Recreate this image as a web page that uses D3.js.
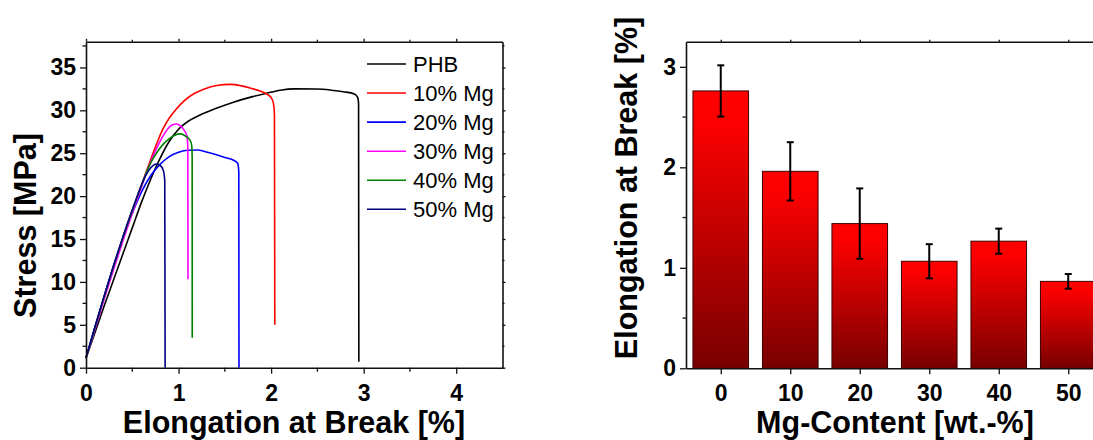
<!DOCTYPE html>
<html>
<head>
<meta charset="utf-8">
<script src="https://cdn.jsdelivr.net/npm/d3@7"></script>
<style>
  html, body { margin: 0; padding: 0; background: #fff; }
  svg { display: block; }
  text { font-family: "Liberation Sans", Arial, sans-serif; }
</style>
</head>
<body>
<svg id="chart" width="1093" height="440"></svg>
<script>
// ---------- Left panel: stress-strain curves ----------
const strainPHB  = [0, 0.1, 0.2, 0.3, 0.4, 0.5, 0.6, 0.7, 0.8, 0.9, 1.0, 1.1, 1.232, 1.4, 1.593, 1.8, 1.953, 2.1, 2.25, 2.494, 2.65, 2.78, 2.9, 2.935, 2.945, 2.948];
const stressPHB  = [1.1, 4.2, 7.3, 10.3, 13.3, 16.3, 19.3, 22.0, 24.4, 26.4, 27.8, 28.7, 29.45, 30.2, 30.95, 31.6, 32.0, 32.35, 32.5, 32.48, 32.35, 32.17, 31.9, 31.5, 30.8, 0.7];

const strain10 = [0, 0.1, 0.2, 0.3, 0.4, 0.5, 0.6, 0.65, 0.7, 0.76, 0.83, 0.9, 0.98, 1.06, 1.16, 1.28, 1.413, 1.557, 1.68, 1.773, 1.88, 1.953, 2.0, 2.025, 2.036, 2.04];
const stress10 = [1.1, 4.8, 8.4, 11.9, 15.2, 18.3, 21.3, 22.8, 24.3, 26.0, 27.8, 29.1, 30.2, 31.1, 31.9, 32.5, 32.9, 33.03, 32.85, 32.6, 32.25, 31.9, 31.5, 30.8, 29.5, 5.0];

const strain20 = [0, 0.1, 0.2, 0.3, 0.4, 0.5, 0.6, 0.7, 0.8, 0.9, 1.0, 1.1, 1.2, 1.3, 1.4, 1.5, 1.6, 1.64, 1.651, 1.653];
const stress20 = [1.1, 4.8, 8.4, 11.9, 15.1, 18.0, 20.5, 22.4, 23.7, 24.6, 25.1, 25.35, 25.37, 25.15, 24.85, 24.5, 24.15, 23.8, 22.8, 0];

const strain30 = [0, 0.1, 0.2, 0.3, 0.4, 0.5, 0.6, 0.65, 0.7, 0.76, 0.82, 0.88, 0.93, 0.98, 1.02, 1.06, 1.09, 1.1, 1.102];
const stress30 = [1.1, 4.6, 8.1, 11.5, 14.8, 18.0, 21.1, 22.6, 24.0, 25.5, 26.8, 27.8, 28.3, 28.4, 28.2, 27.7, 27.0, 25.8, 10.3];

const strain40 = [0, 0.1, 0.2, 0.3, 0.4, 0.5, 0.6, 0.65, 0.7, 0.76, 0.83, 0.9, 0.96, 1.016, 1.06, 1.1, 1.13, 1.143, 1.147, 1.148];
const stress40 = [1.1, 4.8, 8.4, 11.9, 15.2, 18.3, 21.3, 22.7, 23.9, 25.0, 26.0, 26.7, 27.1, 27.25, 27.1, 26.8, 26.4, 25.8, 24.5, 3.5];

const strain50 = [0, 0.1, 0.2, 0.3, 0.4, 0.5, 0.6, 0.65, 0.7, 0.76, 0.8, 0.835, 0.851, 0.855];
const stress50 = [1.2, 4.9, 8.5, 12.0, 15.3, 18.4, 21.3, 22.5, 23.3, 23.75, 23.6, 23.0, 21.8, 0];

const seriesNames  = ["PHB", "10% Mg", "20% Mg", "30% Mg", "40% Mg", "50% Mg"];
const seriesColors = ["#000000", "#ff0000", "#0000ff", "#ff00ff", "#008000", "#000080"];
const seriesStrain = [strainPHB, strain10, strain20, strain30, strain40, strain50];
const seriesStress = [stressPHB, stress10, stress20, stress30, stress40, stress50];

const leftXTicks = [0, 1, 2, 3, 4];
const leftYTicks = [0, 5, 10, 15, 20, 25, 30, 35];

// ---------- Right panel: bar chart ----------
const mgContent  = [0, 10, 20, 30, 40, 50];
const elongation = [2.76, 1.96, 1.44, 1.065, 1.265, 0.865];
const elongErr   = [0.255, 0.29, 0.35, 0.17, 0.125, 0.073];
const rightYTicks = [0, 1, 2, 3];

const svg = d3.select("#chart");
const FONT = "'Liberation Sans', Arial, sans-serif";

// ===== Left panel =====
const L = { left: 86, right: 502.5, top: 41.7, bottom: 367.7 };
const xL = d3.scaleLinear().domain([0, 4.5]).range([L.left, L.right]);
const yL = d3.scaleLinear().domain([0, 38]).range([L.bottom, L.top]);

const gL = svg.append("g");

function minorTicks(g, scale, values, orient, pos, len) {
  values.forEach(v => {
    const p = scale(v);
    if (orient === "bottom") g.append("line").attr("x1", p).attr("x2", p).attr("y1", pos).attr("y2", pos + len);
    if (orient === "top") g.append("line").attr("x1", p).attr("x2", p).attr("y1", pos).attr("y2", pos - len);
    if (orient === "left") g.append("line").attr("y1", p).attr("y2", p).attr("x1", pos).attr("x2", pos - len);
    if (orient === "right") g.append("line").attr("y1", p).attr("y2", p).attr("x1", pos).attr("x2", pos + len);
  });
  g.selectAll("line").attr("stroke", "#111").attr("stroke-width", 1.3);
}

// curves
const lineGen = d3.line().curve(d3.curveMonotoneX);
const curvesG = gL.append("g");
seriesNames.forEach((name, i) => {
  const pts = seriesStrain[i].map((e, j) => [xL(e), yL(seriesStress[i][j])]);
  curvesG.append("path")
    .attr("d", lineGen(pts))
    .attr("fill", "none")
    .attr("stroke", seriesColors[i])
    .attr("stroke-width", 1.6)
    .attr("stroke-linejoin", "round");
});

// axes
const axBL = gL.append("g").attr("transform", `translate(0,${L.bottom})`)
  .call(d3.axisBottom(xL).tickValues(leftXTicks).tickFormat(d3.format("d")).tickSizeInner(6).tickSizeOuter(0).tickPadding(5));
const axLL = gL.append("g").attr("transform", `translate(${L.left},0)`)
  .call(d3.axisLeft(yL).tickValues(leftYTicks).tickFormat(d3.format("d")).tickSizeInner(6).tickSizeOuter(0).tickPadding(4));
const axTL = gL.append("g").attr("transform", `translate(0,${L.top})`)
  .call(d3.axisTop(xL).tickValues(leftXTicks).tickFormat("").tickSizeInner(3).tickSizeOuter(0));
const axRL = gL.append("g").attr("transform", `translate(${L.right},0)`)
  .call(d3.axisRight(yL).tickValues(leftYTicks).tickFormat("").tickSizeInner(3).tickSizeOuter(0));
[axBL, axLL, axTL, axRL].forEach(a => {
  a.select(".domain").attr("stroke", "#111").attr("stroke-width", 1.6);
  a.selectAll(".tick line").attr("stroke", "#111").attr("stroke-width", 1.3);
  a.selectAll("text").attr("font-family", FONT).attr("font-weight", "bold").attr("font-size", 23).attr("fill", "#000");
});
axBL.selectAll("text").attr("dy", "0.95em");
minorTicks(gL.append("g"), xL, [0.5, 1.5, 2.5, 3.5], "bottom", L.bottom, 4);
minorTicks(gL.append("g"), xL, [0.5, 1.5, 2.5, 3.5], "top", L.top, 2);
minorTicks(gL.append("g"), yL, [2.5, 7.5, 12.5, 17.5, 22.5, 27.5, 32.5, 37.5], "left", L.left, 3.5);
minorTicks(gL.append("g"), yL, [2.5, 7.5, 12.5, 17.5, 22.5, 27.5, 32.5, 37.5], "right", L.right, 2);

// legend
const legY = d3.scaleLinear().domain([0, 5]).range([64, 209.3]);
const legG = gL.append("g");
seriesNames.forEach((name, i) => {
  legG.append("line").attr("x1", 367).attr("x2", 406)
    .attr("y1", legY(i)).attr("y2", legY(i))
    .attr("stroke", seriesColors[i]).attr("stroke-width", 1.6);
  legG.append("text").attr("x", 413).attr("y", legY(i)).attr("dy", "0.36em")
    .attr("font-family", FONT).attr("font-size", 22).text(name);
});

// titles
gL.append("text").attr("x", 294).attr("y", 433).attr("text-anchor", "middle")
  .attr("font-family", FONT).attr("font-weight", "bold").attr("font-size", 30.5)
  .text("Elongation at Break [%]");
gL.append("text").attr("transform", "translate(36,225.5) rotate(-90)").attr("text-anchor", "middle")
  .attr("font-family", FONT).attr("font-weight", "bold").attr("font-size", 30.5)
  .text("Stress [MPa]");

// ===== Right panel =====
const R = { left: 686, top: 41.7, bottom: 368.3 };
const xR = d3.scaleLinear().domain([-5, 55]).range([R.left, R.left + 60 * 6.95]);
const yR = d3.scaleLinear().domain([0, 3.25]).range([R.bottom, R.top]);
const gR = svg.append("g");

const defs = svg.append("defs");
const grad = defs.append("linearGradient").attr("id", "barGrad")
  .attr("x1", 0).attr("y1", 0).attr("x2", 0).attr("y2", 1);
grad.append("stop").attr("offset", "0%").attr("stop-color", "#ff0000");
grad.append("stop").attr("offset", "12%").attr("stop-color", "#fb0000");
grad.append("stop").attr("offset", "100%").attr("stop-color", "#780000");

const barW = xR(4) - xR(-4);
gR.selectAll("rect.bar").data(mgContent).join("rect")
  .attr("class", "bar")
  .attr("x", d => xR(d) - barW / 2)
  .attr("width", barW)
  .attr("y", (d, i) => yR(elongation[i]))
  .attr("height", (d, i) => yR(0) - yR(elongation[i]))
  .attr("fill", "url(#barGrad)")
  .attr("stroke", "#3a0000").attr("stroke-width", 1);

const errG = gR.append("g").attr("stroke", "#000").attr("stroke-width", 2);
mgContent.forEach((c, i) => {
  const cx = xR(c);
  const yt = yR(elongation[i] + elongErr[i]);
  const yb = yR(elongation[i] - elongErr[i]);
  errG.append("line").attr("x1", cx).attr("x2", cx).attr("y1", yt).attr("y2", yb);
  errG.append("line").attr("x1", cx - 3.5).attr("x2", cx + 3.5).attr("y1", yt).attr("y2", yt);
  errG.append("line").attr("x1", cx - 3.5).attr("x2", cx + 3.5).attr("y1", yb).attr("y2", yb);
});

const axBR = gR.append("g").attr("transform", `translate(0,${R.bottom})`)
  .call(d3.axisBottom(xR).tickValues(mgContent).tickFormat(d3.format("d")).tickSizeInner(6).tickSizeOuter(0).tickPadding(5));
const axLR = gR.append("g").attr("transform", `translate(${R.left},0)`)
  .call(d3.axisLeft(yR).tickValues(rightYTicks).tickFormat(d3.format("d")).tickSizeInner(6).tickSizeOuter(0).tickPadding(4));
const axTR = gR.append("g").attr("transform", `translate(0,${R.top})`)
  .call(d3.axisTop(xR).tickValues(mgContent).tickFormat("").tickSizeInner(2).tickSizeOuter(0));
[axBR, axLR, axTR].forEach(a => {
  a.select(".domain").attr("stroke", "#111").attr("stroke-width", 1.6);
  a.selectAll(".tick line").attr("stroke", "#111").attr("stroke-width", 1.3);
  a.selectAll("text").attr("font-family", FONT).attr("font-weight", "bold").attr("font-size", 23).attr("fill", "#000");
});
axBR.selectAll("text").attr("dy", "0.95em");
minorTicks(gR.append("g"), yR, [0.5, 1.5, 2.5], "left", R.left, 3.5);

gR.append("text").attr("x", 895).attr("y", 433).attr("text-anchor", "middle")
  .attr("font-family", FONT).attr("font-weight", "bold").attr("font-size", 30.5)
  .text("Mg-Content [wt.-%]");
gR.append("text").attr("transform", "translate(637,188) rotate(-90)").attr("text-anchor", "middle")
  .attr("font-family", FONT).attr("font-weight", "bold").attr("font-size", 30.5)
  .text("Elongation at Break [%]");
</script>
</body>
</html>
